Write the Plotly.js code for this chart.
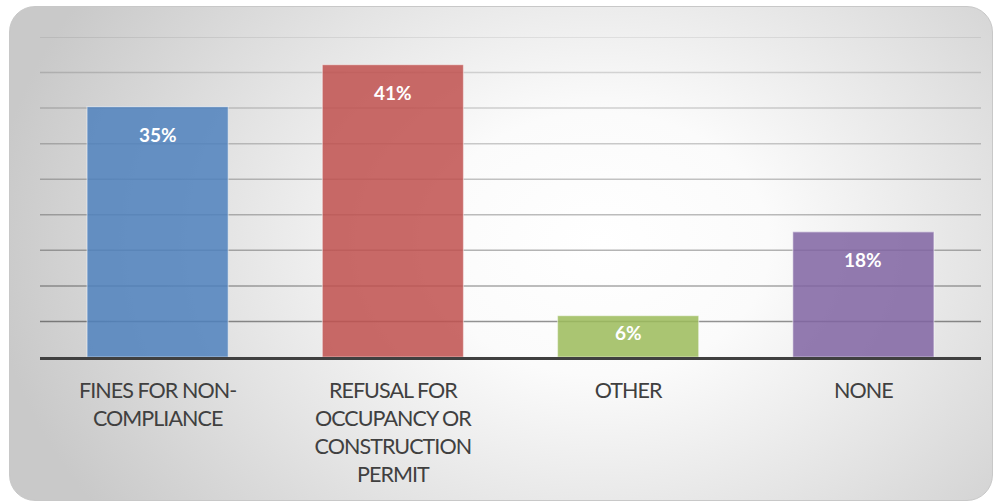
<!DOCTYPE html>
<html>
<head>
<meta charset="utf-8">
<script src="https://cdn.plot.ly/plotly-3.0.1.min.js"></script>
<style>
  html, body { margin: 0; padding: 0; background: #ffffff; }
  #wrap { position: relative; width: 998px; height: 503px; overflow: hidden; }
  #bg {
    position: absolute; left: 9px; top: 6px; width: 984px; height: 495px;
    border-radius: 26px;
    border: 1px solid #c8c8c8;
    box-sizing: border-box;
    background: radial-gradient(ellipse 62% 95% at 60% 48%, #ffffff 0%, #fbfbfb 28%, #e4e4e4 62%, #c9c9c9 100%);
  }
  #chart { position: absolute; left: 0; top: 0; width: 998px; height: 503px; }
  #chart .xtick text { letter-spacing: -0.95px; }
</style>
</head>
<body>
<div id="wrap">
  <div id="bg"></div>
  <div id="chart"></div>
</div>
<script>
const categories = ["FINES FOR NON-<br>COMPLIANCE", "REFUSAL FOR<br>OCCUPANCY OR<br>CONSTRUCTION<br>PERMIT", "OTHER", "NONE"];
const values = [0.352, 0.411, 0.058, 0.176];
const barColors = ["rgba(79,129,189,0.85)", "rgba(192,80,77,0.85)", "rgba(155,187,89,0.85)", "rgba(128,100,162,0.85)"];
const yMax = 0.45;
const gridStep = 0.05;
// gridline darkness grows toward the baseline (bottom -> top)
const gridAlpha = [0.42, 0.34, 0.29, 0.26, 0.23, 0.20, 0.17, 0.14, 0.10];

const plotTop = 36.5, plotBottom = 146;
const plotH = 503 - plotTop - plotBottom;

const annotations = values.map((v, i) => {
  const px = v / yMax * plotH;
  return {
    x: i, y: v, xref: 'x', yref: 'y',
    text: '<b>' + Math.round(v * 100) + '%</b>',
    showarrow: false, yanchor: 'middle',
    yshift: -Math.min(28, px - 25),
    font: {family: 'Lato, sans-serif', size: 19, color: '#ffffff'}
  };
});

const shapes = gridAlpha.map((a, k) => ({
  type: 'line', layer: 'below',
  xref: 'paper', x0: 0, x1: 1,
  yref: 'y', y0: (k + 1) * gridStep, y1: (k + 1) * gridStep,
  line: {color: 'rgba(0,0,0,' + a + ')', width: 1.5}
}));

const trace = {
  type: 'bar',
  x: [0, 1, 2, 3],
  y: values,
  marker: {color: barColors, line: {color: 'rgba(255,255,255,0.45)', width: 1.2}},
  hoverinfo: 'none'
};

const layout = {
  width: 998, height: 503,
  margin: {l: 40, r: 17, t: plotTop, b: plotBottom},
  paper_bgcolor: 'rgba(0,0,0,0)',
  plot_bgcolor: 'rgba(0,0,0,0)',
  showlegend: false,
  bargap: 0.4,
  xaxis: {
    range: [-0.5, 3.5],
    tickmode: 'array', tickvals: [0, 1, 2, 3], ticktext: categories,
    showgrid: false, zeroline: false,
    showline: true, linecolor: '#404040', linewidth: 3,
    ticks: '', ticklabelstandoff: 12,
    tickfont: {family: 'Lato, sans-serif', size: 21.5, color: '#404040'}
  },
  yaxis: {
    range: [0, yMax], dtick: gridStep, tick0: 0,
    showticklabels: false, ticks: '',
    showgrid: false, zeroline: false, showline: false
  },
  shapes: shapes,
  annotations: annotations
};

Plotly.newPlot('chart', [trace], layout, {displayModeBar: false, staticPlot: true});
</script>
</body>
</html>
